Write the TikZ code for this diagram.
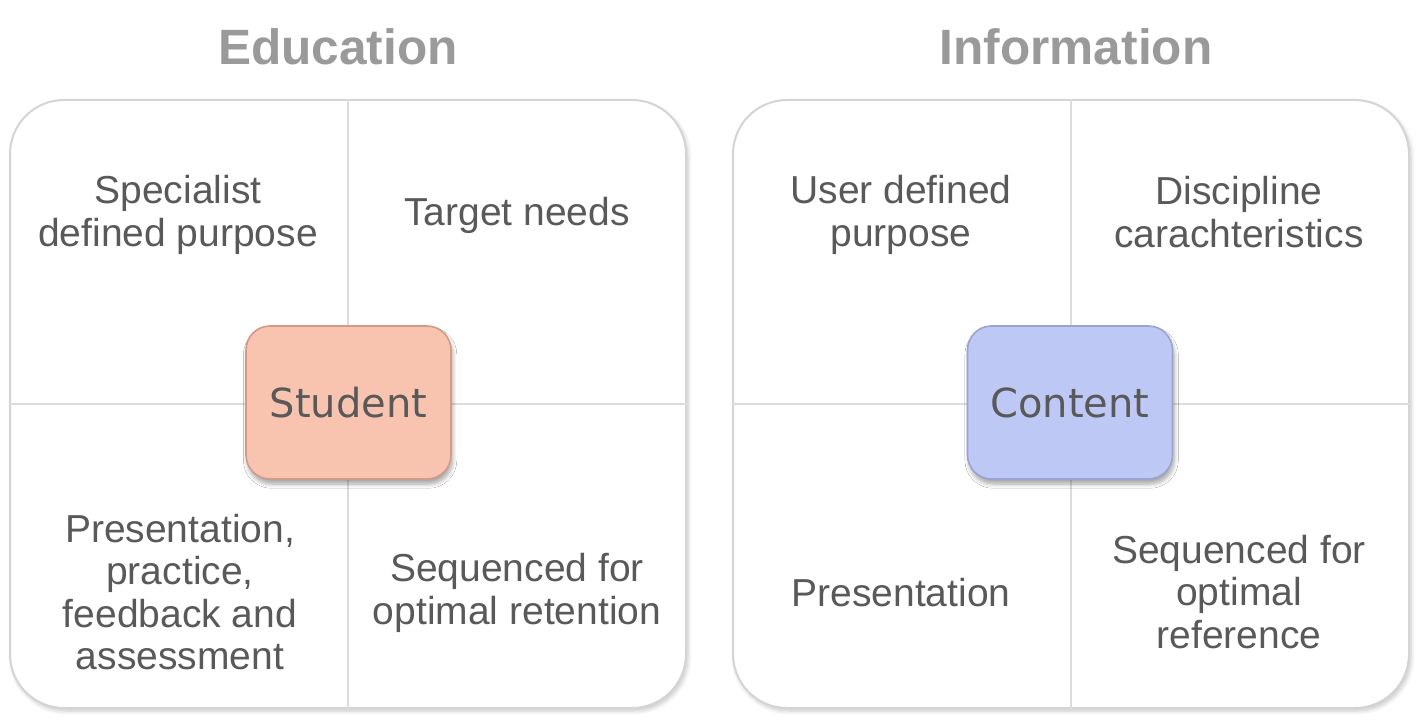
\documentclass[tikz,border=0pt]{standalone}
\usepackage{fontspec}
\setmainfont{Liberation Sans}
\newfontfamily\hubfont{DejaVu Sans}
\usetikzlibrary{positioning,shadows.blur}

\definecolor{txtgray}{HTML}{595959}
\definecolor{titlegray}{HTML}{9A9A9A}
\definecolor{framegray}{HTML}{D4D4D4}
\definecolor{divgray}{HTML}{DCDCDC}
\definecolor{studfill}{HTML}{F8C4B0}
\definecolor{studline}{HTML}{D29B89}
\definecolor{contfill}{HTML}{BEC8F4}
\definecolor{contline}{HTML}{9AA3D2}

\begin{document}
\begin{tikzpicture}[x=0.5pt, y=-0.5pt,
    panel/.style={draw=framegray, line width=1pt, fill=white, rounded corners=27pt,
      minimum width=338pt, minimum height=304pt,
      blur shadow={shadow xshift=1pt, shadow yshift=-1.5pt, shadow blur steps=6, shadow opacity=22}},
    divider/.style={draw=divgray, line width=1pt},
    hub/.style={line width=0.8pt, rounded corners=12pt, minimum width=102.5pt, minimum height=76.5pt,
      text=txtgray, font=\hubfont\fontsize{20}{24}\selectfont,
      blur shadow={shadow xshift=0.8pt, shadow yshift=-2.5pt, shadow blur steps=6, shadow opacity=35}},
    quad/.style={text=txtgray, align=center, font=\fontsize{19.5}{21.3}\selectfont},
    heading/.style={text=titlegray, font=\bfseries\fontsize{24.8}{28}\selectfont}]
  \useasboundingbox (0,0) rectangle (1418,721);

  % panels
  \node[panel] (Edu) at (348,404) {};
  \node[panel] (Inf) at (1071,404) {};
  \draw[divider] (Edu.north) -- (Edu.south);
  \draw[divider] (Edu.west) -- (Edu.east);
  \draw[divider] (Inf.north) -- (Inf.south);
  \draw[divider] (Inf.west) -- (Inf.east);

  % titles
  \node[heading] (EduTitle) at (338,47) {Education};
  \node[heading] (InfTitle) at (1076,47) {Information};

  % centre boxes
  \node[hub, fill=studfill, draw=studline] (Stud) at (348.5,402.5) {Student};
  \node[hub, fill=contfill, draw=contline] (Cont) at (1070,402.5) {Content};

  % education quadrants
  \node[quad] (SpecPurp) at (178,215) {Specialist\\defined purpose};
  \node[quad] (TargNeed) at (517,215) {Target needs};
  \node[quad] (PresPrac) at (180,592) {Presentation,\\practice,\\feedback and\\assessment};
  \node[quad] (SeqRet) at (517,593) {Sequenced for\\optimal retention};

  % information quadrants
  \node[quad] (UserPurp) at (901,215) {User defined\\purpose};
  \node[quad] (DiscChar) at (1239,212) {Discipline\\carachteristics};
  \node[quad] (Pres) at (901,593) {Presentation};
  \node[quad] (SeqRef) at (1239,592) {Sequenced for\\optimal\\reference};
\end{tikzpicture}
\end{document}
